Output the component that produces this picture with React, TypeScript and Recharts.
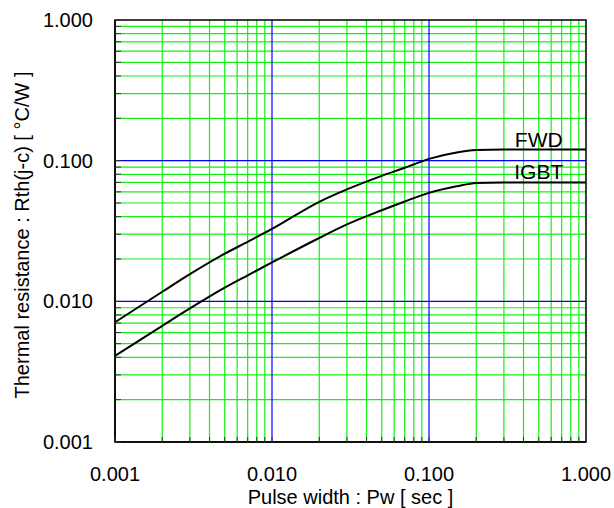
import { LineChart, Line, XAxis, YAxis, CartesianGrid, ReferenceArea, LabelList } from "recharts";

// pulse width [sec] and thermal resistance [°C/W]
const pulseWidth = [0.001, 0.002, 0.003, 0.005, 0.007, 0.01, 0.02, 0.03, 0.05, 0.07, 0.1, 0.15, 0.2, 0.3, 0.5, 1.0];
const fwd = [0.0071, 0.0117, 0.0156, 0.0218, 0.0265, 0.0327, 0.051, 0.0625, 0.078, 0.089, 0.103, 0.1145, 0.119, 0.12, 0.12, 0.12];
const igbt = [0.0041, 0.0067, 0.0089, 0.0125, 0.0153, 0.0189, 0.0282, 0.0352, 0.0444, 0.0513, 0.059, 0.0657, 0.0695, 0.07, 0.07, 0.07];

const seriesNames = ["FWD", "IGBT"];
const labelAt = 0.5; // series name sits above the curve at this pulse width

const decades = [0.001, 0.01, 0.1, 1];
const minorSteps = [2, 3, 4, 5, 6, 7, 8, 9];
const tickLabels = ["0.001", "0.010", "0.100", "1.000"];

const innerDecades = decades.slice(1, -1);
const minorValues = decades.slice(0, -1).flatMap((d) => minorSteps.map((m) => +(d * m).toPrecision(3)));
const allTicks = [...decades, ...minorValues].sort((a, b) => a - b);

const chartData = pulseWidth.map((x, i) => ({ x, fwd: fwd[i], igbt: igbt[i] }));
const labelIndex = pulseWidth.indexOf(labelAt);

const FONT = "'Liberation Sans', Arial, sans-serif";
const MARGIN = 22;

function labelFor(v: number) {
  const i = decades.findIndex((d) => Math.abs(d - v) < d * 1e-6);
  return i >= 0 ? tickLabels[i] : "";
}

function XTick(props: any) {
  const { x, y, payload } = props;
  const axisY = y - MARGIN;
  const text = labelFor(payload.value);
  return (
    <g>
      <line x1={x} x2={x} y1={axisY} y2={axisY - 5} stroke="#333" />
      {text && (
        <text x={x} y={axisY + 39} textAnchor="middle" fontSize={20} fontFamily={FONT} fill="#000">
          {text}
        </text>
      )}
    </g>
  );
}

function YTick(props: any) {
  const { x, y, payload } = props;
  const axisX = x + MARGIN;
  const text = labelFor(payload.value);
  return (
    <g>
      <line x1={axisX} x2={axisX + 6} y1={y} y2={y} stroke="#333" />
      {text && (
        <text x={x} y={y + 7} textAnchor="end" fontSize={20} fontFamily={FONT} fill="#000">
          {text}
        </text>
      )}
    </g>
  );
}

function seriesLabel(name: string) {
  return (p: any) =>
    p.index === labelIndex ? (
      <text x={p.x} y={p.y - 3} textAnchor="middle" fontSize={21} fontFamily={FONT} fill="#000">
        {name}
      </text>
    ) : null;
}

export default function App() {
  return (
    <div style={{ position: "absolute", left: 0, top: 0, width: 614, height: 508, background: "#fff" }}>
      <LineChart width={614} height={508} data={chartData} margin={{ top: 20, right: 28, bottom: 0, left: 0 }}>
        <CartesianGrid stroke="#14f014" strokeWidth={1.2} horizontalValues={minorValues} verticalValues={minorValues} />
        <CartesianGrid stroke="#0000ff" strokeWidth={1.2} horizontalValues={innerDecades} verticalValues={innerDecades} />
        <XAxis
          dataKey="x"
          type="number"
          scale="log"
          domain={[0.001, 1]}
          ticks={allTicks}
          interval={0}
          height={66}
          tickSize={0}
          tickMargin={MARGIN}
          tick={<XTick />}
          axisLine={{ stroke: "#000", strokeWidth: 1.5 }}
          label={{ value: "Pulse width : Pw [ sec ]", position: "insideBottom", offset: 4, fontSize: 20, fontFamily: FONT, fill: "#000" }}
        />
        <YAxis
          type="number"
          scale="log"
          domain={[0.001, 1]}
          ticks={allTicks}
          interval={0}
          width={115}
          tickSize={0}
          tickMargin={MARGIN}
          tick={<YTick />}
          axisLine={{ stroke: "#000", strokeWidth: 1.5 }}
          label={{ value: "Thermal resistance : Rth(j-c) [ °C/W ]", angle: -90, position: "center", dx: -36, dy: 4, fontSize: 20, fontFamily: FONT, fill: "#000" }}
        />
        <ReferenceArea x1={0.001} x2={1} y1={0.001} y2={1} fill="none" stroke="#000" strokeWidth={1.5} ifOverflow="visible" />
        <Line type="monotone" dataKey="fwd" stroke="#000" strokeWidth={2} dot={false} isAnimationActive={false}>
          <LabelList dataKey="fwd" content={seriesLabel(seriesNames[0])} />
        </Line>
        <Line type="monotone" dataKey="igbt" stroke="#000" strokeWidth={2} dot={false} isAnimationActive={false}>
          <LabelList dataKey="igbt" content={seriesLabel(seriesNames[1])} />
        </Line>
      </LineChart>
    </div>
  );
}
